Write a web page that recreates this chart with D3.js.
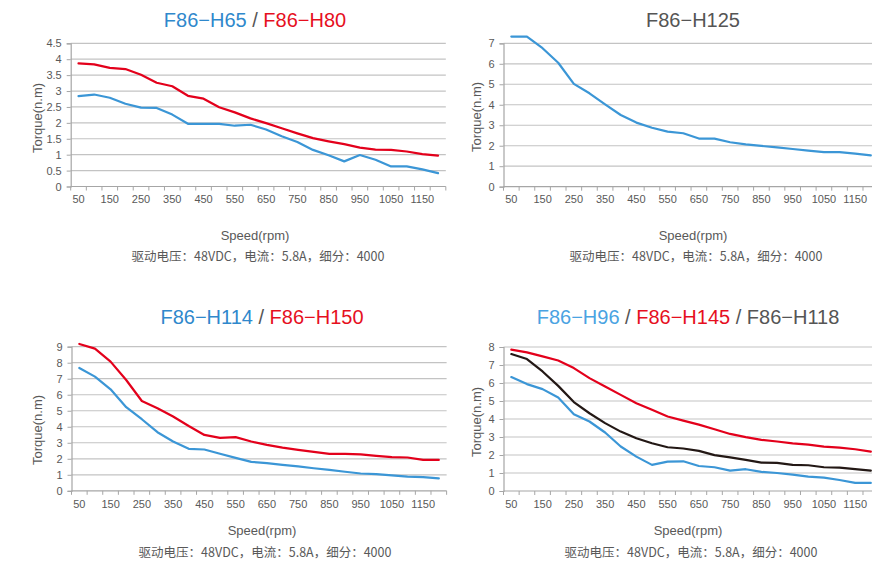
<!DOCTYPE html>
<html>
<head>
<meta charset="utf-8">
<script src="https://cdn.jsdelivr.net/npm/d3@7"></script>
<style>
  html, body { margin: 0; padding: 0; background: #fff; }
  svg { display: block; font-family: "Liberation Sans", Arial, sans-serif; }
</style>
</head>
<body>
<svg id="chart" width="872" height="561"></svg>
<script>
// ---------- data ----------
const speeds = [50,100,150,200,250,300,350,400,450,500,550,600,650,700,750,800,850,900,950,1000,1050,1100,1150,1200];
const speedLabels = [50,150,250,350,450,550,650,750,850,950,1050,1150];

const h65  = [2.84,2.89,2.79,2.60,2.48,2.47,2.26,1.97,1.97,1.97,1.91,1.94,1.79,1.58,1.40,1.15,0.98,0.79,0.99,0.84,0.63,0.63,0.54,0.42];
const h80  = [3.87,3.84,3.73,3.69,3.51,3.26,3.15,2.85,2.76,2.49,2.33,2.14,1.99,1.83,1.67,1.52,1.42,1.33,1.22,1.16,1.15,1.10,1.02,0.97];
const h125 = [7.33,7.33,6.76,6.05,5.02,4.56,4.02,3.50,3.13,2.88,2.69,2.61,2.35,2.35,2.17,2.07,1.99,1.92,1.84,1.76,1.69,1.69,1.61,1.53];
const h114 = [7.67,7.13,6.34,5.22,4.47,3.66,3.08,2.62,2.58,2.31,2.06,1.81,1.73,1.62,1.52,1.41,1.31,1.19,1.08,1.04,0.96,0.89,0.85,0.78];
const h150 = [9.17,8.88,8.07,6.92,5.61,5.16,4.64,4.05,3.49,3.31,3.35,3.08,2.87,2.70,2.56,2.43,2.31,2.31,2.27,2.18,2.10,2.08,1.93,1.93];
const h96  = [6.33,5.94,5.66,5.19,4.27,3.86,3.25,2.47,1.91,1.45,1.63,1.65,1.39,1.32,1.13,1.21,1.06,1.00,0.91,0.80,0.74,0.61,0.45,0.45];
const h145 = [7.85,7.70,7.48,7.25,6.83,6.27,5.81,5.34,4.88,4.51,4.14,3.91,3.69,3.43,3.17,2.99,2.84,2.75,2.65,2.58,2.47,2.41,2.32,2.19];
const h118 = [7.61,7.33,6.64,5.84,4.94,4.32,3.77,3.30,2.93,2.65,2.43,2.36,2.23,1.99,1.87,1.73,1.58,1.56,1.45,1.43,1.32,1.30,1.22,1.13];

const ticks1 = [0,0.5,1,1.5,2,2.5,3,3.5,4,4.5];
const ticks2 = [0,1,2,3,4,5,6,7];
const ticks3 = [0,1,2,3,4,5,6,7,8,9];
const ticks4 = [0,1,2,3,4,5,6,7,8];

const title1 = ["F86−H65", "F86−H80"];
const title2 = ["F86−H125"];
const title3 = ["F86−H114", "F86−H150"];
const title4 = ["F86−H96", "F86−H145", "F86−H118"];

const yTitle = "Torque(n.m)";
const xTitle = "Speed(rpm)";
const note = "驱动电压：48VDC，电流：5.8A，细分：4000";

// ---------- styles ----------
const BLUE = "#3b96d6", RED = "#e3001b", BLACK = "#231815";
const TBLUE = "#2f88cc", TBLUE2 = "#4aa3e2", TRED = "#e60f1e", TGRAY = "#555555";
const GRID = "#c3c3c3", AXIS = "#a6a6a6", TXT = "#595959";

const svg = d3.select("#chart");

function panel(opt) {
  const g = svg.append("g");
  const bw = 15.63;
  const x = d3.scaleBand().domain(speeds).range([opt.x0, opt.x0 + bw * speeds.length]).padding(0);
  const y = d3.scaleLinear().domain([0, opt.ymax]).range([opt.y0, opt.ytop]);

  // gridlines
  g.append("g").selectAll("line").data(opt.ticks.filter(t => t > 0)).join("line")
    .attr("x1", opt.x0).attr("x2", x.range()[1])
    .attr("y1", d => y(d)).attr("y2", d => y(d))
    .attr("stroke", GRID).attr("stroke-width", 1.2);

  // y axis
  const ya = g.append("g").attr("transform", `translate(${opt.x0},0)`)
    .call(d3.axisLeft(y).tickValues(opt.ticks).tickSize(4).tickPadding(5).tickFormat(d3.format("")));
  ya.select(".domain").attr("stroke", AXIS).attr("stroke-width", 1.2);
  ya.selectAll(".tick line").attr("stroke", AXIS);
  ya.selectAll(".tick text").attr("fill", TXT).style("font-size", "11px")
    .style("font-family", '"Liberation Sans", Arial, sans-serif');

  // x axis line
  g.append("line").attr("x1", opt.x0).attr("x2", x.range()[1])
    .attr("y1", opt.y0).attr("y2", opt.y0).attr("stroke", AXIS).attr("stroke-width", 1.2);
  // x ticks at band boundaries
  const bounds = speeds.map(s => x(s)).concat([x.range()[1]]);
  g.append("g").selectAll("line").data(bounds).join("line")
    .attr("x1", d => d).attr("x2", d => d)
    .attr("y1", opt.y0).attr("y2", opt.y0 + 4)
    .attr("stroke", AXIS);
  // x labels
  const xa = g.append("g").attr("transform", `translate(0,${opt.y0})`)
    .call(d3.axisBottom(x).tickValues(speedLabels).tickSize(0).tickPadding(9));
  xa.select(".domain").remove();
  xa.selectAll(".tick text").attr("fill", TXT).style("font-size", "11px")
    .style("font-family", '"Liberation Sans", Arial, sans-serif');

  // lines
  const line = d3.line().x((d, i) => x(speeds[i]) + x.bandwidth() / 2).y(d => y(d));
  opt.series.forEach(s => {
    g.append("path").datum(s.values).attr("d", line)
      .attr("fill", "none").attr("stroke", s.color).attr("stroke-width", 2.2)
      .attr("stroke-linejoin", "round").attr("stroke-linecap", "round");
  });

  // title
  const t = g.append("text").attr("x", opt.cx).attr("y", opt.ty).attr("text-anchor", "middle")
    .style("font-size", "20px");
  opt.titles.forEach((tt, i) => {
    if (i > 0) t.append("tspan").attr("fill", TGRAY).text(" / ");
    t.append("tspan").attr("fill", opt.titleColors[i]).text(tt);
  });

  // axis titles
  g.append("text").attr("transform", `translate(${opt.yx},${opt.yc}) rotate(-90)`)
    .attr("text-anchor", "middle").attr("dominant-baseline", "central")
    .attr("fill", TXT).style("font-size", "13px").text(yTitle);
  g.append("text").attr("x", opt.cx).attr("y", opt.sy).attr("text-anchor", "middle")
    .attr("dominant-baseline", "central")
    .attr("fill", TXT).style("font-size", "13px").text(xTitle);
  g.append("text").attr("x", opt.cx + 3).attr("y", opt.ny).attr("text-anchor", "middle")
    .attr("dominant-baseline", "central")
    .attr("fill", TXT).style("font-size", "12.5px")
    .style("font-family", '"Noto Sans CJK SC", "Liberation Sans", sans-serif').text(note);
}

panel({x0: 70.7, y0: 186.5, ytop: 43.3, ymax: 4.5, ticks: ticks1, cx: 255, ty: 27, yx: 37, yc: 118, sy: 235, ny: 255,
  titles: title1, titleColors: [TBLUE, TRED],
  series: [{values: h65, color: BLUE}, {values: h80, color: RED}]});
panel({x0: 503.5, y0: 186.7, ytop: 43.3, ymax: 7, ticks: ticks2, cx: 693, ty: 27, yx: 476, yc: 117, sy: 235, ny: 255,
  titles: title2, titleColors: [TGRAY],
  series: [{values: h125, color: BLUE}]});
panel({x0: 71.5, y0: 490.8, ytop: 346.7, ymax: 9, ticks: ticks3, cx: 262, ty: 324, yx: 37, yc: 430, sy: 530, ny: 551,
  titles: title3, titleColors: [TBLUE, TRED],
  series: [{values: h114, color: BLUE}, {values: h150, color: RED}]});
panel({x0: 503.5, y0: 491, ytop: 347, ymax: 8, ticks: ticks4, cx: 688, ty: 324, yx: 476, yc: 422, sy: 530, ny: 551,
  titles: title4, titleColors: [TBLUE2, TRED, TGRAY],
  series: [{values: h96, color: BLUE}, {values: h118, color: BLACK}, {values: h145, color: RED}]});
</script>
</body>
</html>
